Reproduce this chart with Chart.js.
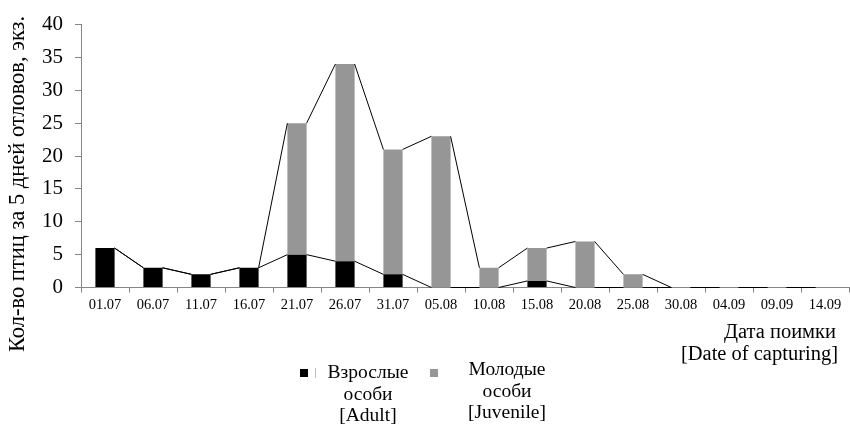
<!DOCTYPE html>
<html>
<head>
<meta charset="utf-8">
<script src="https://cdn.jsdelivr.net/npm/chart.js@4/dist/chart.umd.min.js"></script>
<style>
  html, body { margin: 0; padding: 0; background: #fff; }
  #wrap { width: 850px; height: 425px; }
</style>
</head>
<body>
<div id="wrap"><canvas id="c" width="850" height="425"></canvas></div>
<script>
// Capture dates (5-day trapping periods)
const dates = ['01.07', '06.07', '11.07', '16.07', '21.07', '26.07', '31.07', '05.08',
               '10.08', '15.08', '20.08', '25.08', '30.08', '04.09', '09.09', '14.09'];
// Birds caught per period
const adults    = [6, 3, 2, 3, 5, 4, 2, 0, 0, 1, 0, 0, 0, 0, 0, 0];
const juveniles = [0, 0, 0, 0, 20, 30, 19, 23, 3, 5, 7, 2, 0, 0, 0, 0];
// Value axis ticks
const yMin = 0, yMax = 40, yStep = 5;
// Texts
const yTitle = 'Кол-во птиц за 5 дней отловов, экз.';
const xTitle = ['Дата поимки', '[Date of capturing]'];
const adultLabel = ['Взрослые', 'особи', '[Adult]'];
const juvenileLabel = ['Молодые', 'особи', '[Juvenile]'];

const SERIF = "'Liberation Serif', 'Times New Roman', serif";
const AXIS_GREY = '#868686';

// Lines joining the tops of neighbouring stacked bars, one per series
const seriesLines = {
  id: 'seriesLines',
  afterDatasetsDraw(chart) {
    const ctx = chart.ctx;
    ctx.save();
    ctx.strokeStyle = '#000';
    ctx.lineWidth = 1;
    chart.data.datasets.forEach((ds, d) => {
      const bars = chart.getDatasetMeta(d).data;
      ctx.beginPath();
      for (let i = 0; i < bars.length - 1; i++) {
        const a = bars[i].getProps(['x', 'y', 'width'], true);
        const b = bars[i + 1].getProps(['x', 'y', 'width'], true);
        ctx.moveTo(a.x + a.width / 2, a.y);
        ctx.lineTo(b.x - b.width / 2, b.y);
      }
      ctx.stroke();
    });
    ctx.restore();
  }
};

// Axis titles and the legend under the chart
const annotations = {
  id: 'annotations',
  afterDraw(chart) {
    const ctx = chart.ctx;
    ctx.save();
    ctx.fillStyle = '#000';

    // value axis title
    ctx.save();
    ctx.translate(18, 184);
    ctx.rotate(-Math.PI / 2);
    ctx.font = '22.5px ' + SERIF;
    ctx.textAlign = 'center';
    ctx.textBaseline = 'middle';
    ctx.fillText(yTitle, 0, 0);
    ctx.restore();

    // category axis title
    ctx.font = '20.5px ' + SERIF;
    ctx.textAlign = 'right';
    ctx.textBaseline = 'middle';
    ctx.fillText(xTitle[0], 836, 333);
    ctx.fillText(xTitle[1], 838, 355);

    // legend
    const entries = [
      { ds: chart.data.datasets[0], box: 300, text: 368, top: 373 },
      { ds: chart.data.datasets[1], box: 430, text: 507, top: 370 }
    ];
    ctx.font = '19.5px ' + SERIF;
    ctx.textAlign = 'center';
    entries.forEach(e => {
      ctx.fillStyle = e.ds.backgroundColor;
      ctx.fillRect(e.box, 369, 8, 8);
      ctx.fillStyle = '#000';
      e.ds.label.forEach((line, k) => ctx.fillText(line, e.text, e.top + k * 21.5));
    });
    ctx.strokeStyle = '#bdbdbd';
    ctx.lineWidth = 1;
    ctx.beginPath();
    ctx.moveTo(315.5, 368);
    ctx.lineTo(315.5, 378);
    ctx.stroke();
    ctx.restore();
  }
};

new Chart(document.getElementById('c'), {
  type: 'bar',
  data: {
    labels: dates,
    datasets: [
      { label: adultLabel, data: adults, backgroundColor: '#000000',
        barPercentage: 0.4, categoryPercentage: 1.0 },
      { label: juvenileLabel, data: juveniles, backgroundColor: '#969696',
        barPercentage: 0.4, categoryPercentage: 1.0 }
    ]
  },
  options: {
    responsive: false,
    devicePixelRatio: 1,
    animation: false,
    layout: { padding: { top: 21, right: 1, bottom: 0, left: 0 } },
    plugins: { legend: { display: false }, tooltip: { enabled: false } },
    scales: {
      x: {
        stacked: true,
        offset: true,
        grid: { offset: true, drawOnChartArea: false, color: AXIS_GREY, tickLength: 5 },
        border: { color: AXIS_GREY, width: 1 },
        ticks: { color: '#000', font: { family: SERIF, size: 14.5 }, padding: 4,
                 maxRotation: 0, autoSkip: false },
        afterFit(scale) { scale.height = 137.5; }
      },
      y: {
        stacked: true,
        min: yMin, max: yMax,
        grid: { drawOnChartArea: false, color: AXIS_GREY, tickLength: 6 },
        border: { color: AXIS_GREY, width: 1 },
        ticks: { stepSize: yStep, color: '#000', font: { family: SERIF, size: 21 }, padding: 12 },
        afterFit(scale) { scale.width = 81; }
      }
    }
  },
  plugins: [seriesLines, annotations]
});
</script>
</body>
</html>
